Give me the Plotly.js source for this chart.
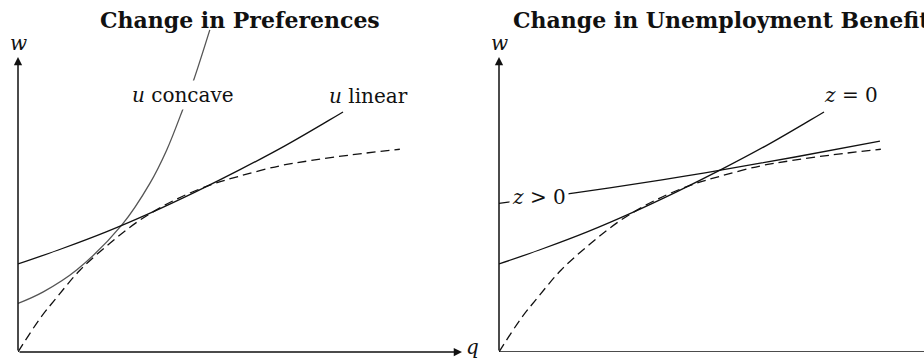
<!DOCTYPE html>
<html>
<head>
<meta charset="utf-8">
<script src="https://cdn.plot.ly/plotly-3.0.1.min.js"></script>
<style>
  html, body { margin: 0; padding: 0; background: #fff; }
  #chart { width: 924px; height: 361px; }
</style>
</head>
<body>
<div id="chart"></div>
<script>
// Values (q on the horizontal, w on the vertical)

// dashed curve, identical in both panels
const dashedQ = [0, 0.5, 0.88, 1.4, 2.07, 2.75, 3.5, 4.32, 5.0, 5.9, 6.6, 7.5, 8.6];
const dashedW = [0, 0.96, 1.56, 2.33, 3.09, 3.75, 4.3, 4.74, 5.0, 5.29, 5.44, 5.6, 5.76];

// "u linear" / "z = 0" curve
const linearQ = [0, 1, 2, 3, 4, 5, 6, 7, 7.32];
const linearW = [2.5, 2.94, 3.42, 3.96, 4.55, 5.18, 5.85, 6.58, 6.82];

// "u concave" curve (left panel only)
const concaveQ = [0, 0.57, 1.32, 2.34, 2.97, 3.35, 3.72, 3.95, 4.32];
const concaveW = [1.38, 1.71, 2.33, 3.61, 4.79, 5.74, 6.92, 7.7, 9.15];

// "z > 0" curve (right panel only)
const benefitQ = [0, 1.71, 3.67, 4.64, 6.67, 8.58];
const benefitW = [4.22, 4.52, 4.89, 5.09, 5.54, 5.99];

const panelTitles = ['Change in Preferences', 'Change in Unemployment Benefits'];

// pixel geometry of the figure
const W = 924, H = 361;
const serif = 'DejaVu Serif, serif';
const ink = '#111';

function curve(q, w, axis, opts) {
  return {
    type: 'scatter',
    mode: 'lines',
    x: q,
    y: w,
    xaxis: axis[0],
    yaxis: axis[1],
    hoverinfo: 'skip',
    showlegend: false,
    line: Object.assign({ color: ink, width: 1.3, shape: 'spline', smoothing: 1 }, opts)
  };
}

const dashStyle = { dash: '9px,5px' };

const data = [
  curve(concaveQ, concaveW, ['x', 'y'], { color: '#555', width: 1.3 }),
  curve(linearQ, linearW, ['x', 'y'], {}),
  curve(dashedQ, dashedW, ['x', 'y'], dashStyle),
  curve(benefitQ, benefitW, ['x2', 'y2'], {}),
  curve(linearQ, linearW, ['x2', 'y2'], {}),
  curve(dashedQ, dashedW, ['x2', 'y2'], dashStyle)
];

const hidden = {
  showgrid: false,
  zeroline: false,
  showline: false,
  showticklabels: false,
  ticks: '',
  fixedrange: true
};

// arrow drawn from (ax, ay) to (x, y)
function arrow(xr, yr, x, y, ax, ay) {
  return {
    xref: xr, yref: yr, axref: xr, ayref: yr,
    x: x, y: y, ax: ax, ay: ay,
    text: '', showarrow: true,
    arrowhead: 2, arrowsize: 1.1, arrowwidth: 1.5,
    arrowcolor: ink, standoff: 0
  };
}

function label(xr, yr, x, y, text, bg) {
  return {
    xref: xr, yref: yr, x: x, y: y,
    text: text, showarrow: false,
    xanchor: 'center', yanchor: 'middle',
    bgcolor: bg ? '#fff' : 'rgba(0,0,0,0)',
    borderpad: 2,
    font: { family: serif, size: 20, color: ink }
  };
}

const annotations = [
  // axes
  arrow('x', 'y', 0, 8.38, 0, 0),
  arrow('x', 'y', 10, 0, 0, 0),
  arrow('x2', 'y2', 0, 8.38, 0, 0),
  // axis names
  label('x', 'y', 0, 8.78, '<i>w</i>', false),
  label('x2', 'y2', 0.02, 8.78, '<i>w</i>', false),
  label('paper', 'paper', 473 / W, 1 - 347 / H, '<i>q</i>', false),
  // curve names
  label('x', 'y', 3.72, 7.3, '<i>u</i> concave', true),
  label('x', 'y', 7.9, 7.27, '<i>u</i> linear', true),
  label('x2', 'y2', 0.9, 4.4, '<i>z</i> &gt; 0', true),
  label('x2', 'y2', 7.93, 7.3, '<i>z</i> = 0', true),
  // panel titles
  {
    xref: 'paper', yref: 'paper', x: 240 / W, y: 1 - 20 / H,
    xanchor: 'center', yanchor: 'middle', showarrow: false,
    text: '<b>' + panelTitles[0] + '</b>',
    font: { family: serif, size: 22, color: ink }
  },
  {
    xref: 'paper', yref: 'paper', x: 511 / W, y: 1 - 20 / H,
    xanchor: 'left', yanchor: 'middle', showarrow: false,
    text: '<b>' + panelTitles[1] + '</b>',
    font: { family: serif, size: 22, color: ink }
  }
];

const layout = {
  width: W,
  height: H,
  margin: { l: 0, r: 0, t: 0, b: 0 },
  paper_bgcolor: '#fff',
  plot_bgcolor: '#fff',
  showlegend: false,
  xaxis: Object.assign({ domain: [18 / W, 462 / W], range: [0, 10] }, hidden),
  yaxis: Object.assign({ domain: [9 / H, 1], range: [0, 10] }, hidden),
  xaxis2: Object.assign({ domain: [499 / W, 1], range: [0, (W - 499) / 44.4], anchor: 'y2' }, hidden),
  yaxis2: Object.assign({ domain: [9 / H, 1], range: [0, 10], anchor: 'x2' }, hidden),
  shapes: [
    // right panel horizontal axis runs off the edge
    { type: 'line', xref: 'x2', yref: 'y2', x0: 0, y0: 0, x1: (W - 499) / 44.4, y1: 0,
      line: { color: ink, width: 1.5 } }
  ],
  annotations: annotations
};

Plotly.newPlot('chart', data, layout, { staticPlot: true, displayModeBar: false });
</script>
</body>
</html>
